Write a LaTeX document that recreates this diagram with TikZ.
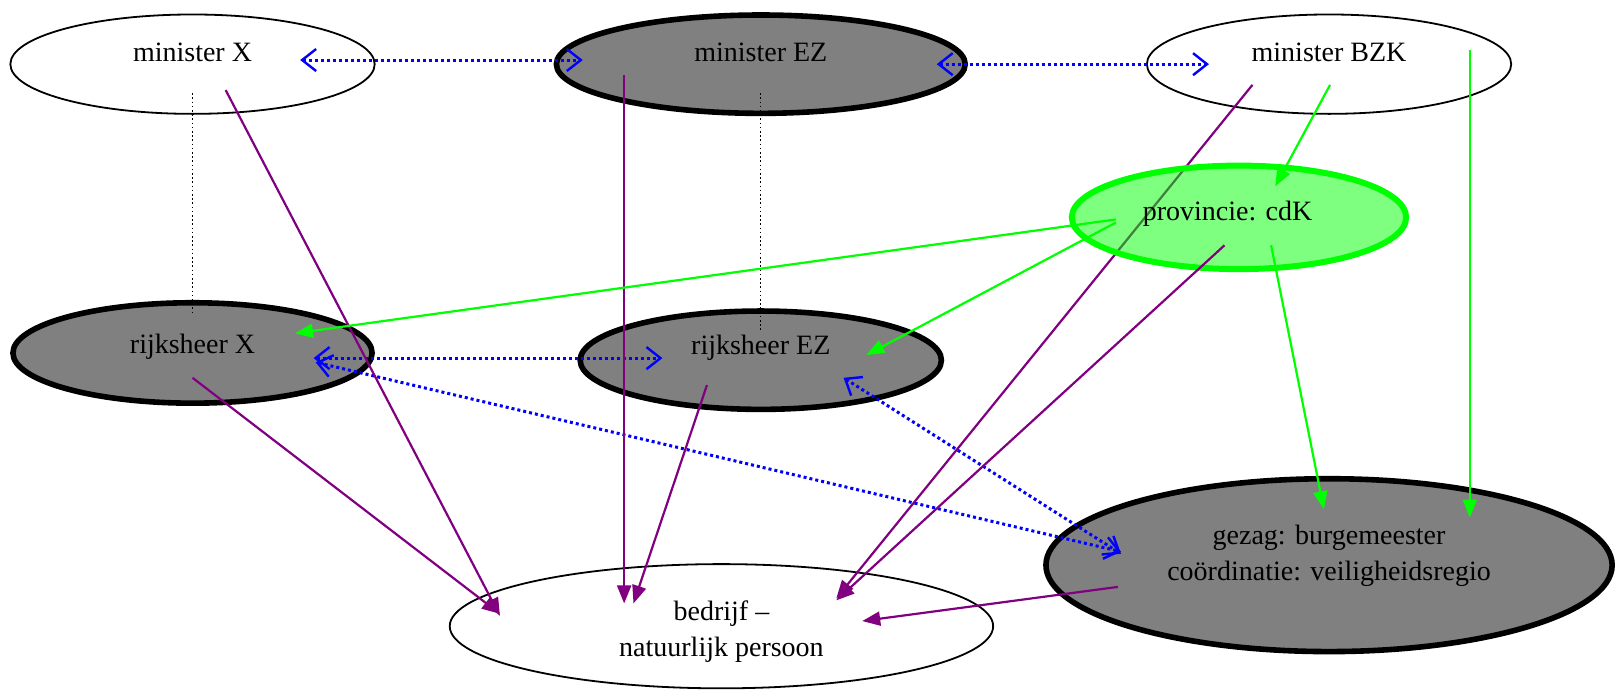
\documentclass[tikz,border=0pt]{standalone}
\usepackage{fontspec}
\setmainfont{Liberation Serif}
\usetikzlibrary{shapes.geometric,arrows.meta,calc}

\definecolor{linkblue}{RGB}{0,0,255}
\definecolor{linkpurple}{RGB}{128,0,128}
\definecolor{linkgreen}{RGB}{0,255,0}
\definecolor{ezgray}{RGB}{128,128,128}

\tikzset{
    ellsize/.style 2 args={minimum width=#1*0.5175pt, minimum height=#2*0.5175pt},
    plainell/.style={ellipse, draw, line width=0.9pt, fill=white, inner sep=0pt},
    heavyell/.style={ellipse, draw, line width=2.8pt, fill=ezgray, inner sep=0pt},
    provell/.style={ellipse, draw=linkgreen, line width=3pt, fill=linkgreen, fill opacity=0.5, inner sep=0pt},
    txt/.style={font=\fontsize{14}{18}\selectfont, align=center, inner sep=0pt},
    blueway/.style={draw=linkblue, line width=1.5pt, dash pattern=on 1.5pt off 1.5pt,
        {Straight Barb[length=7pt,width=11pt,line width=1.2pt]}-{Straight Barb[length=7pt,width=11pt,line width=1.2pt]}},
    purpleway/.style={draw=linkpurple, line width=1.1pt, -{Triangle[length=9pt,width=7pt]}},
    greenway/.style={draw=linkgreen, line width=1.1pt, -{Triangle[length=9pt,width=7pt]}},
    tie/.style={line width=0.7pt, dash pattern=on 0.8pt off 1.3pt}
}

\begin{document}
\begin{tikzpicture}[x=0.5175pt, y=-0.5175pt]
    % Fix the page to the size of the figure
    \useasboundingbox (0,0) rectangle (1568,674);

    % Draw the ellipses
    \node[plainell, ellsize={352}{96}] (minX) at (186,62) {};
    \node[heavyell, ellsize={395}{95}] (minEZ) at (735,62) {};
    \node[plainell, ellsize={352}{96}] (minBZK) at (1284,62) {};
    \node[heavyell, ellsize={347}{97}] (rhX) at (186,341) {};
    \node[heavyell, ellsize={349}{95}] (rhEZ) at (735,348) {};
    \node[heavyell, ellsize={547}{167}] (gezag) at (1284,546) {};
    \node[plainell, ellsize={525}{120}] (bedrijf) at (697,605) {};

    % Put the names in the ellipses
    \node[txt] (minXtext) at (186,51) {minister X};
    \node[txt] (minEZtext) at (735,51) {minister EZ};
    \node[txt] (minBZKtext) at (1284,51) {minister BZK};
    \node[txt] (rhXtext) at (186,335) {rijksheer X};
    \node[txt] (rhEZtext) at (735,336) {rijksheer EZ};
    \node[txt] (gezagtext) at (1284,537) {gezag: burgemeester\\coördinatie: veiligheidsregio};
    \node[txt] (bedrijftext) at (697,610) {bedrijf --\\natuurlijk persoon};

    % This line runs under the province
    \draw[purpleway] ($(minBZK)+(-74,20)$) -- ($(bedrijf)+(111,-27)$);

    % Province with a see-through fill
    \node[provell, ellsize={323}{100}] (prov) at (1197,210) {};
    \node[txt] (provtext) at (1186,207) {provincie: cdK};

    % Dotted ties minister - rijksheer
    \draw[tie] ($(minX)+(0,28)$) -- ($(rhX)+(0,-36)$);
    \draw[tie] ($(minEZ)+(0,28)$) -- ($(rhEZ)+(0,-29)$);

    % Blue dotted links
    \draw[blueway] ($(minX)+(104,-4)$) -- ($(minEZ)+(-172,-4)$);
    \draw[blueway] ($(minEZ)+(170,0)$) -- ($(minBZK)+(-116,0)$);
    \draw[blueway] ($(rhX)+(117,5)$) -- ($(rhEZ)+(-95,-2)$);
    \draw[blueway] ($(rhX)+(119,9)$) -- ($(gezag)+(-201,-13)$);
    \draw[blueway] ($(rhEZ)+(80,17)$) -- ($(gezag)+(-201,-11)$);

    % Purple arrows to the company
    \draw[purpleway] ($(minX)+(32,25)$) -- ($(bedrijf)+(-214,-10)$);
    \draw[purpleway] ($(minEZ)+(-132,10)$) -- ($(bedrijf)+(-94,-22)$);
    \draw[purpleway] ($(rhX)+(0,24)$) -- ($(bedrijf)+(-214,-12)$);
    \draw[purpleway] ($(rhEZ)+(-52,24)$) -- ($(bedrijf)+(-85,-22)$);
    \draw[purpleway] ($(prov)+(-14,27)$) -- ($(bedrijf)+(111,-25)$);
    \draw[purpleway] ($(gezag)+(-204,21)$) -- ($(bedrijf)+(136,-5)$);

    % Green arrows
    \draw[greenway] ($(minBZK)+(1,20)$) -- ($(prov)+(35,-30)$);
    \draw[greenway] ($(minBZK)+(136,-14)$) -- ($(gezag)+(136,-46)$);
    \draw[greenway] ($(prov)+(-119,2)$) -- ($(rhX)+(99,-19)$);
    \draw[greenway] ($(prov)+(-119,5)$) -- ($(rhEZ)+(102,-5)$);
    \draw[greenway] ($(prov)+(31,27)$) -- ($(gezag)+(-5,-54)$);
\end{tikzpicture}
\end{document}
